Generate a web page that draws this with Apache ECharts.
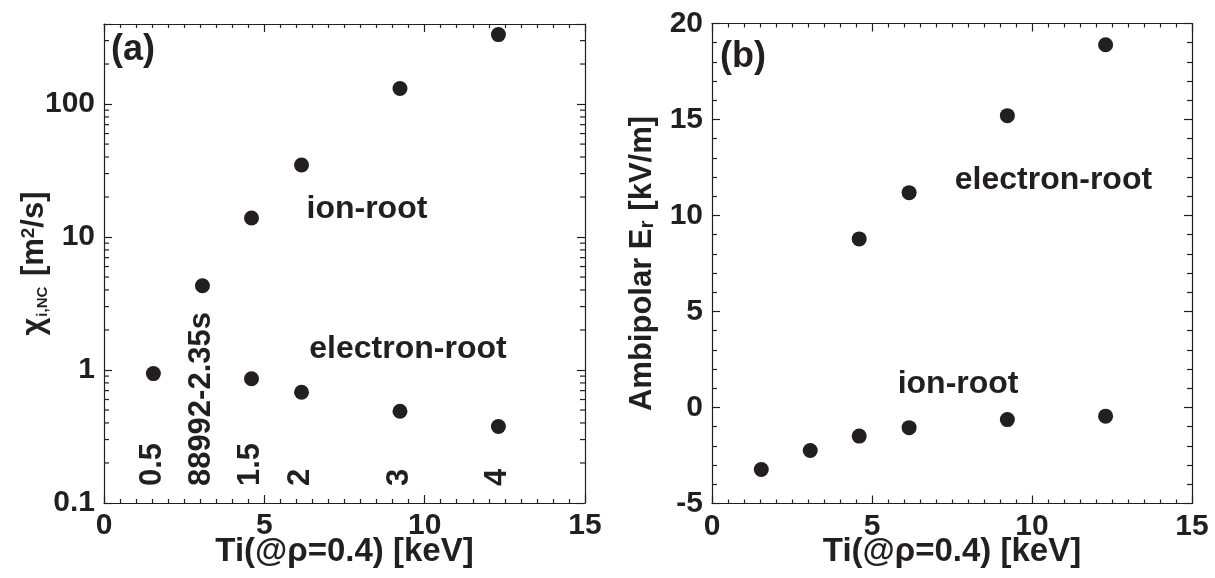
<!DOCTYPE html>
<html>
<head>
<meta charset="utf-8">
<script src="https://cdn.jsdelivr.net/npm/echarts@6/dist/echarts.min.js"></script>
<style>
html, body { margin: 0; padding: 0; background: #fff; }
#main { width: 1215px; height: 578px; }
</style>
</head>
<body>
<div id="main"></div>
<script>
// Ti(@rho=0.4) in keV, one entry per shot
const tiKeV = [1.54, 3.07, 4.6, 6.16, 9.23, 12.3];
// shot tags written vertically at the bottom of panel (a)
const shotTags = ['0.5', '88992-2.35s', '1.5', '2', '3', '4'];

// (a) chi_i,NC [m^2/s]
const chiIonRoot = [0.94, 4.3, 13.9, 34.8, 131, 333];
const chiElectronRoot = [null, null, 0.86, 0.68, 0.49, 0.376];

// (b) ambipolar Er [kV/m]
const erIonRoot = [-3.23, -2.24, -1.49, -1.05, -0.63, -0.45];
const erElectronRoot = [null, null, 8.78, 11.19, 15.2, 18.89];

// axis ticks
const tiTicks = [0, 5, 10, 15];
const chiTicks = [0.1, 1, 10, 100];
const chiTop = 400;
const chiMinorTicks = [0.2, 0.3, 0.4, 0.5, 0.6, 0.7, 0.8, 0.9,
  2, 3, 4, 5, 6, 7, 8, 9, 20, 30, 40, 50, 60, 70, 80, 90, 200, 300];
const erTicks = [-5, 0, 5, 10, 15, 20];

const ink = '#231f20';
const font = '"Liberation Sans", Arial, sans-serif';

function pairs(xs, ys) {
  const out = [];
  xs.forEach((x, i) => { if (ys[i] != null) out.push([x, ys[i]]); });
  return out;
}

const tickLabel = { color: ink, fontSize: 30, fontWeight: 'bold', fontFamily: font, margin: 9 };
const lineSt = { color: ink, width: 1.2 };

function xAx(grid, pos) {
  return {
    type: 'value', gridIndex: grid, position: pos,
    min: tiTicks[0], max: tiTicks[tiTicks.length - 1], interval: 5,
    axisLine: { show: true, onZero: false, lineStyle: lineSt },
    axisTick: { show: true, inside: true, length: 8, lineStyle: lineSt },
    minorTick: { show: true, splitNumber: 10, length: 4, lineStyle: lineSt },
    axisLabel: pos === 'bottom' ? Object.assign({}, tickLabel, { margin: 8 }) : { show: false },
    splitLine: { show: false },
    name: pos === 'bottom' ? 'Ti(@ρ=0.4) [keV]' : '',
    nameLocation: 'middle', nameGap: 32, nameMoveOverlap: false,
    nameTextStyle: { color: ink, fontSize: 33, fontWeight: 'bold', fontFamily: font }
  };
}

function chiAx(pos) {
  return {
    type: 'log', gridIndex: 0, position: pos, logBase: 10,
    min: chiTicks[0], max: chiTop,
    axisLine: { show: true, onZero: false, lineStyle: lineSt },
    axisTick: { show: true, inside: true, length: 8, lineStyle: lineSt },
    axisLabel: pos === 'left' ? Object.assign({}, tickLabel, {
      formatter: v => chiTicks.some(t => Math.abs(t - v) < 1e-9) ? String(v) : ''
    }) : { show: false },
    splitLine: { show: false },
    name: pos === 'left' ? '{g|χ}{sub|i,NC}{g| [m}{sup|2}{g|/s]}' : '',
    nameLocation: 'middle', nameGap: 54, nameMoveOverlap: false,
    nameTextStyle: {
      color: ink, fontSize: 31, fontWeight: 'bold', fontFamily: font,
      rich: {
        g: { fontSize: 31 },
        sub: { fontSize: 15, verticalAlign: 'bottom', padding: [0, 2, 0, 1] },
        sup: { fontSize: 19, verticalAlign: 'top' }
      }
    }
  };
}

function erAx(pos) {
  return {
    type: 'value', gridIndex: 1, position: pos,
    min: erTicks[0], max: erTicks[erTicks.length - 1], interval: 5,
    axisLine: { show: true, onZero: false, lineStyle: lineSt },
    axisTick: { show: true, inside: true, length: 8, lineStyle: lineSt },
    minorTick: { show: true, splitNumber: 5, length: 5, lineStyle: lineSt },
    axisLabel: pos === 'left' ? tickLabel : { show: false },
    splitLine: { show: false },
    name: pos === 'left' ? '{g|Ambipolar E}{sub|r}{g| [kV/m]}' : '',
    nameLocation: 'middle', nameGap: 54, nameMoveOverlap: false,
    nameTextStyle: {
      color: ink, fontSize: 31, fontWeight: 'bold', fontFamily: font,
      rich: {
        g: { fontSize: 31 },
        sub: { fontSize: 21, verticalAlign: 'bottom', padding: [0, 1, 0, 0] }
      }
    }
  };
}

// minor ticks of the log axis, placed through the axis scale on both sides
function logMinorTick(params, api) {
  const v = api.value(1);
  const a = api.coord([tiTicks[0], v]);
  const b = api.coord([tiTicks[tiTicks.length - 1], v]);
  const st = { stroke: ink, lineWidth: 1.2 };
  return {
    type: 'group',
    children: [
      { type: 'line', shape: { x1: a[0], y1: a[1], x2: a[0] + 5, y2: a[1] }, style: st },
      { type: 'line', shape: { x1: b[0], y1: b[1], x2: b[0] - 5, y2: b[1] }, style: st }
    ]
  };
}

const dot = { symbol: 'circle', symbolSize: 15, itemStyle: { color: ink, opacity: 1 }, silent: true };
const noteLabel = { show: true, position: 'inside', formatter: '{b}', color: ink, opacity: 1,
  fontSize: 32, fontWeight: 'bold', fontFamily: font };

// text notes, in data coordinates of each panel
const tagY = 0.134;
const notesA = [{ name: 'ion-root', value: [8.2, 16.1] }, { name: 'electron-root', value: [9.48, 1.43] }];
const notesB = [{ name: 'electron-root', value: [10.67, 11.84] }, { name: 'ion-root', value: [7.69, 1.19] }];

const option = {
  animation: false,
  backgroundColor: '#fff',
  grid: [
    { left: 104, top: 24, width: 481, height: 479, outerBoundsMode: 'none' },
    { left: 712, top: 23.5, width: 480, height: 480, outerBoundsMode: 'none' }
  ],
  xAxis: [xAx(0, 'bottom'), xAx(0, 'top'), xAx(1, 'bottom'), xAx(1, 'top')],
  yAxis: [chiAx('left'), chiAx('right'), erAx('left'), erAx('right')],
  graphic: [
    { type: 'text', left: 111, top: 32, style: { text: '(a)', fill: ink, fontSize: 36, fontWeight: 'bold', fontFamily: font } },
    { type: 'text', left: 720, top: 39, style: { text: '(b)', fill: ink, fontSize: 36, fontWeight: 'bold', fontFamily: font } }
  ],
  series: [
    { type: 'custom', xAxisIndex: 0, yAxisIndex: 0, silent: true, renderItem: logMinorTick,
      encode: { x: 0, y: 1 }, data: chiMinorTicks.map(v => [tiTicks[0], v]) },
    Object.assign({ type: 'scatter', name: 'ion-root', xAxisIndex: 0, yAxisIndex: 0,
      data: pairs(tiKeV, chiIonRoot) }, dot),
    Object.assign({ type: 'scatter', name: 'electron-root', xAxisIndex: 0, yAxisIndex: 0,
      data: pairs(tiKeV, chiElectronRoot) }, dot),
    { type: 'scatter', xAxisIndex: 0, yAxisIndex: 0, symbolSize: 0, silent: true,
      itemStyle: { opacity: 1 },
      data: tiKeV.map((x, i) => ({ name: shotTags[i], value: [x, tagY] })),
      label: { show: true, position: 'inside', formatter: '{b}', rotate: 90, align: 'left',
        verticalAlign: 'middle', offset: [0, -1], color: ink, opacity: 1,
        fontSize: 31, fontWeight: 'bold', fontFamily: font } },
    { type: 'scatter', xAxisIndex: 0, yAxisIndex: 0, symbolSize: 0, silent: true,
      itemStyle: { opacity: 1 }, data: notesA, label: noteLabel },
    Object.assign({ type: 'scatter', name: 'ion-root', xAxisIndex: 2, yAxisIndex: 2,
      data: pairs(tiKeV, erIonRoot) }, dot),
    Object.assign({ type: 'scatter', name: 'electron-root', xAxisIndex: 2, yAxisIndex: 2,
      data: pairs(tiKeV, erElectronRoot) }, dot),
    { type: 'scatter', xAxisIndex: 2, yAxisIndex: 2, symbolSize: 0, silent: true,
      itemStyle: { opacity: 1 }, data: notesB, label: noteLabel }
  ]
};

const chart = echarts.init(document.getElementById('main'));
chart.setOption(option);
</script>
</body>
</html>
